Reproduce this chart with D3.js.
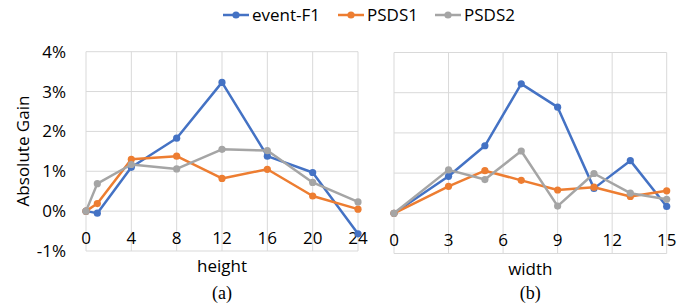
<!DOCTYPE html>
<html>
<head>
<meta charset="utf-8">
<script src="https://cdn.jsdelivr.net/npm/d3@7"></script>
<style>
body { margin: 0; background: #fff; }
svg text { font-family: "Open Sans", sans-serif; fill: #000; }
</style>
</head>
<body>
<svg id="chart" width="699" height="304"></svg>
<script>
// series names and colours
const seriesNames = ["event-F1", "PSDS1", "PSDS2"];
const colors = ["#4472C4", "#ED7D31", "#A5A5A5"];

// (a) height
const heightX = [0, 1, 4, 8, 12, 16, 20, 24];
const heightF1 = [0, -0.05, 1.1, 1.83, 3.23, 1.38, 0.97, -0.57];
const heightPSDS1 = [0, 0.19, 1.3, 1.38, 0.82, 1.05, 0.38, 0.05];
const heightPSDS2 = [0, 0.69, 1.17, 1.06, 1.55, 1.52, 0.72, 0.23];
const heightTicks = [0, 4, 8, 12, 16, 20, 24];

// (b) width
const widthX = [0, 3, 5, 7, 9, 11, 13, 15];
const widthF1 = [0, 0.92, 1.68, 3.22, 2.64, 0.62, 1.31, 0.17];
const widthPSDS1 = [0, 0.67, 1.06, 0.82, 0.58, 0.65, 0.42, 0.56];
const widthPSDS2 = [0, 1.08, 0.84, 1.55, 0.18, 0.99, 0.5, 0.35];
const widthTicks = [0, 3, 6, 9, 12, 15];

const yTicks = [-1, 0, 1, 2, 3, 4];

const svg = d3.select("#chart");

function panel(opt) {
  const x = d3.scaleLinear().domain(opt.xDomain).range(opt.xRange);
  const y = d3.scaleLinear().domain([-1, 4]).range(opt.yRange);
  const g = svg.append("g");

  // grid
  g.selectAll(".hg").data(yTicks).enter().append("line")
    .attr("x1", opt.xRange[0]).attr("x2", opt.xRange[1])
    .attr("y1", d => y(d)).attr("y2", d => y(d))
    .attr("stroke", "#d9d9d9").attr("stroke-width", 1);
  g.selectAll(".vg").data(opt.ticks).enter().append("line")
    .attr("x1", d => x(d)).attr("x2", d => x(d))
    .attr("y1", opt.yRange[0]).attr("y2", opt.yRange[1])
    .attr("stroke", "#d9d9d9").attr("stroke-width", 1);

  // x tick labels sit just under the 0% line
  g.selectAll(".xt").data(opt.ticks).enter().append("text")
    .attr("x", d => x(d)).attr("y", y(0) + 33)
    .attr("text-anchor", "middle")
    .style("font-size", "17px")
    .text(d => d);

  if (opt.yLabels) {
    g.selectAll(".yt").data(yTicks).enter().append("text")
      .attr("x", opt.xRange[0] - 20).attr("y", d => y(d) + 6)
      .attr("text-anchor", "end")
      .style("font-size", "17px")
      .text(d => d + "%");
  }

  const line = d3.line().x(d => x(d[0])).y(d => y(d[1]));
  opt.series.forEach((vals, i) => {
    const pts = opt.xs.map((v, j) => [v, vals[j]]);
    g.append("path").datum(pts)
      .attr("fill", "none").attr("stroke", colors[i])
      .attr("stroke-width", 2.5).attr("stroke-linejoin", "round")
      .attr("d", line);
    g.selectAll(null).data(pts).enter().append("circle")
      .attr("cx", d => x(d[0])).attr("cy", d => y(d[1]))
      .attr("r", 3.6).attr("fill", colors[i]);
  });

  const cx = (opt.xRange[0] + opt.xRange[1]) / 2;
  g.append("text").attr("x", cx).attr("y", opt.titleY)
    .attr("text-anchor", "middle").style("font-size", "17px")
    .text(opt.title);
  g.append("text").attr("x", cx).attr("y", 299)
    .attr("text-anchor", "middle")
    .style("font-family", "'Liberation Serif', serif").style("font-size", "18px")
    .text(opt.caption);
}

panel({
  xDomain: [0, 24], xRange: [86, 358], yRange: [251, 51.7],
  ticks: heightTicks, xs: heightX,
  series: [heightF1, heightPSDS1, heightPSDS2],
  yLabels: true, title: "height", titleY: 272, caption: "(a)"
});

panel({
  xDomain: [0, 15], xRange: [394, 666.7], yRange: [253.5, 52.5],
  ticks: widthTicks, xs: widthX,
  series: [widthF1, widthPSDS1, widthPSDS2],
  yLabels: false, title: "width", titleY: 275, caption: "(b)"
});

// y axis title
svg.append("text")
  .attr("transform", "translate(29,151) rotate(-90)")
  .attr("text-anchor", "middle").style("font-size", "17px")
  .text("Absolute Gain");

// legend
const legendX = [223, 338, 435];
seriesNames.forEach((name, i) => {
  const lg = svg.append("g").attr("transform", `translate(${legendX[i]},15)`);
  lg.append("line").attr("x1", 0).attr("x2", 26).attr("y1", 0).attr("y2", 0)
    .attr("stroke", colors[i]).attr("stroke-width", 2.5);
  lg.append("circle").attr("cx", 13).attr("cy", 0).attr("r", 3.6).attr("fill", colors[i]);
  lg.append("text").attr("x", 29).attr("y", 6).style("font-size", "17px").text(name);
});
</script>
</body>
</html>
